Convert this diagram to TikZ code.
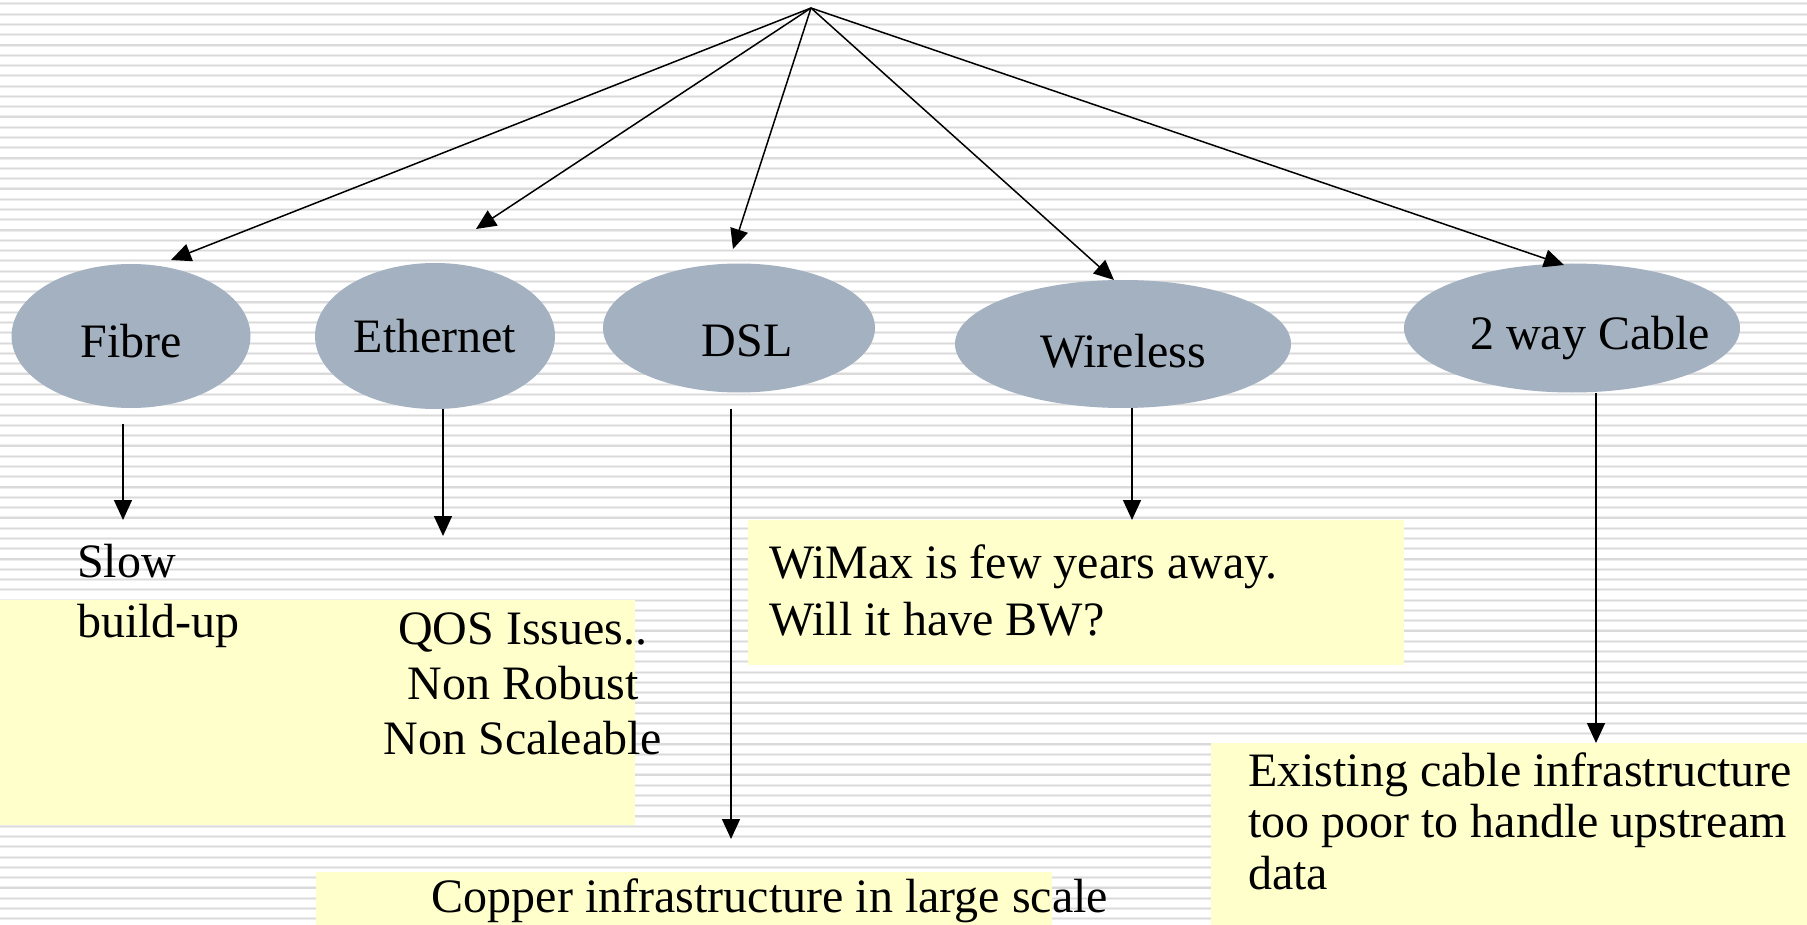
\documentclass[tikz,border=0pt]{standalone}
\usepackage{fontspec}
\setmainfont{Liberation Serif}
\usepackage{xcolor}
\usepackage{tikz}
\usetikzlibrary{shapes.geometric,arrows.meta}
\definecolor{mybluegray}{HTML}{A3B1C1}
\definecolor{mynoteyellow}{HTML}{FFFFCC}
\definecolor{mystripecore}{HTML}{DADADA}
\definecolor{mystripeedge}{HTML}{EDEDED}
\pgfkeys{tikz/mystripe/.style={line width=3pt,mystripeedge}}
\pgfkeys{tikz/mystripein/.style={line width=1.2pt,mystripecore}}
\pgfkeys{tikz/myellipse/.style={ellipse,fill=mybluegray,inner sep=0pt}}
\pgfkeys{tikz/mynote/.style={fill=mynoteyellow,inner sep=0pt,anchor=north west}}
\pgfkeys{tikz/mytext/.style={inner sep=0pt,font=\fontsize{48}{55}\selectfont}}
\pgfkeys{tikz/myarrow/.style={-{Triangle[length=20pt,width=18pt]},line width=1.5pt}}
\begin{document}
\begin{tikzpicture}[x=1pt,y=-1pt]
    \useasboundingbox (0,0) rectangle (1807,925);
    \fill[white] (0,0) rectangle (1807,925);
    \foreach \i in {0,...,89}{
        \draw[mystripe] (0,{3.9+10.28*\i}) -- (1807,{3.9+10.28*\i});
        \draw[mystripein] (0,{3.9+10.28*\i}) -- (1807,{3.9+10.28*\i});
    }
    \node[mynote,minimum width=635pt,minimum height=225pt] (fibrenote) at (0,600) {};
    \node[mynote,minimum width=656pt,minimum height=145pt] (wirelessnote) at (748,520) {};
    \node[mynote,minimum width=596pt,minimum height=182pt] (cablenote) at (1211,743) {};
    \node[mynote,minimum width=736pt,minimum height=53pt] (dslnote) at (316,872) {};
    \node[mytext,anchor=west,align=left,font=\fontsize{48}{60}\selectfont] (slowtext) at (77,596) {Slow\\build-up};
    \node[mytext,align=center] (qostext) at (523,684) {QOS Issues..\\Non Robust\\Non Scaleable};
    \node[mytext,anchor=west,align=left,font=\fontsize{48}{57}\selectfont] (wimaxtext) at (769,590) {WiMax is few years away.\\Will it have BW?};
    \node[mytext,anchor=west,align=left,font=\fontsize{48}{51.5}\selectfont] (cabletext) at (1248,821) {Existing cable infrastructure\\too poor to handle upstream\\data};
    \node[mytext] (coppertext) at (770,901) {Copper infrastructure in large scale};
    \node[myellipse,minimum width=239pt,minimum height=144pt,
        label={[mytext,yshift=-5pt]center:Fibre}] (fibre) at (131,336) {};
    \node[myellipse,minimum width=240pt,minimum height=146pt,
        label={[mytext]center:Ethernet}] (ethernet) at (435,336) {};
    \node[myellipse,minimum width=272pt,minimum height=129pt,
        label={[mytext,xshift=8pt,yshift=-13pt]center:DSL}] (dsl) at (739,328) {};
    \node[myellipse,minimum width=336pt,minimum height=128pt,
        label={[mytext,yshift=-7pt]center:Wireless}] (wireless) at (1123,344) {};
    \node[myellipse,minimum width=336pt,minimum height=129pt,
        label={[mytext,xshift=18pt,yshift=-10pt]center:2 way Cable}] (cable) at (1572,328) {};
    \coordinate (top) at (811,8);
    \coordinate (fibretip) at (171,260);
    \coordinate (ethernettip) at (476,229);
    \coordinate (dsltip) at (733,249);
    \coordinate (wirelesstip) at (1114,280);
    \coordinate (cabletip) at (1564,265);
    \foreach \t in {fibretip,ethernettip,dsltip,wirelesstip,cabletip}
        \draw[myarrow] (top) -- (\t);
    \coordinate (fibredown) at (123,520);
    \coordinate (ethernetdown) at (443,536);
    \coordinate (dsldown) at (731,839);
    \coordinate (wirelessdown) at (1132,520);
    \coordinate (cabledown) at (1596,743);
    \draw[myarrow] ([xshift=-8pt,yshift=-16pt]fibre.south) -- (fibredown);
    \draw[myarrow] ([xshift=8pt]ethernet.south) -- (ethernetdown);
    \draw[myarrow] ([xshift=-8pt,yshift=-16pt]dsl.south) -- (dsldown);
    \draw[myarrow] ([xshift=9pt]wireless.south) -- (wirelessdown);
    \draw[myarrow] ([xshift=24pt]cable.south) -- (cabledown);
\end{tikzpicture}
\end{document}
